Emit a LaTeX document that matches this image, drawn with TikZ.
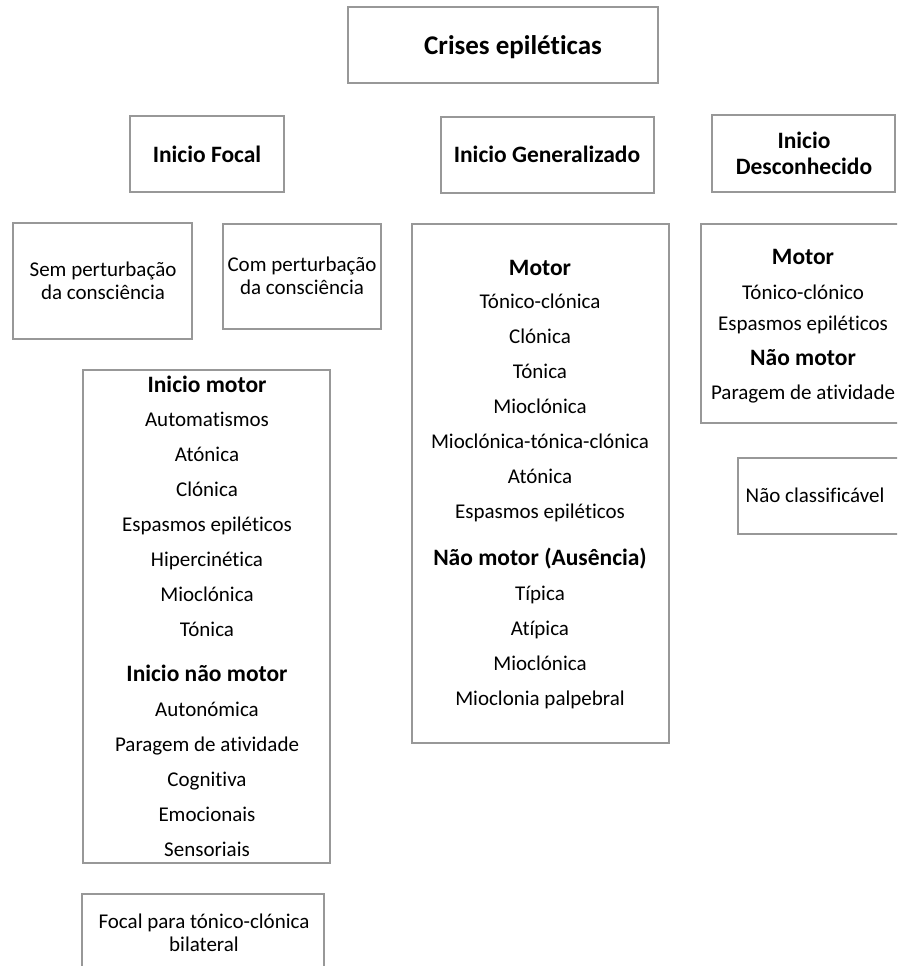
\documentclass[tikz,border=0pt]{standalone}
\usepackage{fontspec}
\setmainfont[Ligatures=NoCommon]{Carlito}
\definecolor{bord}{RGB}{152,152,152}
\begin{document}
\begin{tikzpicture}[x=1pt,y=-1pt,
  box/.style={draw=bord,line width=2pt},
  body/.style={font=\fontsize{21}{23}\selectfont,align=center,inner sep=0pt},
  sub/.style={font=\fontsize{23.5}{26}\selectfont\bfseries,align=center,inner sep=0pt},
  ttl/.style={font=\fontsize{27}{30}\selectfont\bfseries,align=center,inner sep=0pt},
  item/.style={body,anchor=base,yshift=-6.5pt},
  head/.style={sub,anchor=base,yshift=-7.5pt}]
\useasboundingbox (0,0) rectangle (897,966);
\clip (0,0) rectangle (897,966);
% boxes
\draw[box] (348,7) rectangle (658,83);
\draw[box] (130,116) rectangle (284,192);
\draw[box] (441,117) rectangle (654,193);
\draw[box] (712,115) rectangle (895,192);
\draw[box] (13,223) rectangle (192,339);
\draw[box] (223,224) rectangle (381,329);
\draw[box] (412,224) rectangle (669,743);
\draw[box] (701,224) rectangle (910,423);
\draw[box] (738,458) rectangle (900,534);
\draw[box] (83,370) rectangle (330,863);
\draw[box] (82,894) rectangle (324,990);
% titles
\node[ttl,anchor=base,yshift=-8.5pt] (t) at (513,46) {Crises epiléticas};
\node[head] (f) at (207,155) {Inicio Focal};
\node[head] (g) at (547,155) {Inicio Generalizado};
\node[sub] (d) at (804,153) {Inicio\\Desconhecido};
% focal sub boxes
\node[body] (sem) at (103,281) {Sem perturbação\\da consciência};
\node[body] (com) at (302,276) {Com perturbação\\da consciência};
% generalized
\node[head] (gm) at (540,268) {Motor};
\node[item] (g1) at (540,302) {Tónico-clónica};
\node[item] (g2) at (540,337) {Clónica};
\node[item] (g3) at (540,372) {Tónica};
\node[item] (g4) at (540,407) {Mioclónica};
\node[item] (g5) at (540,442) {Mioclónica-tónica-clónica};
\node[item] (g6) at (540,477) {Atónica};
\node[item] (g7) at (540,512) {Espasmos epiléticos};
\node[head] (gn) at (540,558) {Não motor (Ausência)};
\node[item] (g8) at (540,594) {Típica};
\node[item] (g9) at (540,629) {Atípica};
\node[item] (g10) at (540,664) {Mioclónica};
\node[item] (g11) at (540,699) {Mioclonia palpebral};
% unknown
\node[head] (dm) at (803,257) {Motor};
\node[item] (d1) at (803,293) {Tónico-clónico};
\node[item] (d2) at (803,324) {Espasmos epiléticos};
\node[head] (dn) at (803,358) {Não motor};
\node[item] (d3) at (803,393) {Paragem de atividade};
\node[item] (nc) at (815,496) {Não classificável};
% focal motor
\node[head] (fm) at (207,385) {Inicio motor};
\node[item] (f1) at (207,420) {Automatismos};
\node[item] (f2) at (207,455) {Atónica};
\node[item] (f3) at (207,490) {Clónica};
\node[item] (f4) at (207,525) {Espasmos epiléticos};
\node[item] (f5) at (207,560) {Hipercinética};
\node[item] (f6) at (207,595) {Mioclónica};
\node[item] (f7) at (207,630) {Tónica};
\node[head] (fn) at (207,674) {Inicio não motor};
\node[item] (f8) at (207,710) {Autonómica};
\node[item] (f9) at (207,745) {Paragem de atividade};
\node[item] (f10) at (207,780) {Cognitiva};
\node[item] (f11) at (207,815) {Emocionais};
\node[item] (f12) at (207,850) {Sensoriais};
\node[body] (fb) at (204,933) {Focal para tónico-clónica\\bilateral};
\end{tikzpicture}
\end{document}
